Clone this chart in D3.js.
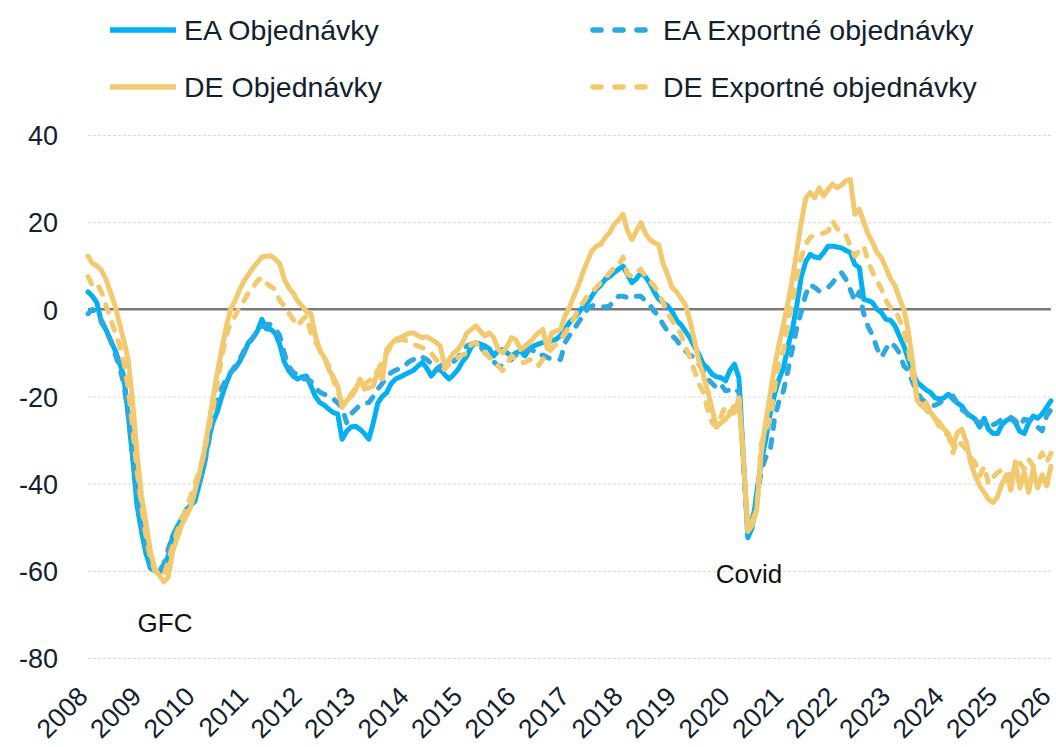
<!DOCTYPE html>
<html>
<head>
<meta charset="utf-8">
<script src="https://cdn.jsdelivr.net/npm/d3@7"></script>
<style>
  body { margin: 0; background: #fff; }
  svg { display: block; font-family: "Liberation Sans", Arial, sans-serif; }
</style>
</head>
<body>
<div id="chart"></div>
<script>
// monthly values, Jan 2008 .. Jan 2026 (one row per year)
const eaOrders = [
  4, 3, 1.5, -3, -4.6, -7, -9.2, -12, -15.3, -24, -34, -45,
  -51, -56, -59.4, -60, -60.4, -59, -56.6, -52, -50, -48, -46, -45,
  -44, -40, -36, -30, -26, -23.5, -20, -17, -14.5, -13.5, -12, -10,
  -7.6, -6.5, -5, -2.3, -4.5, -4.6, -5.5, -8, -12, -14, -15.3, -16,
  -15.5, -15.3, -17.6, -20, -21.4, -22, -22.9, -23.7, -24, -29.8, -28, -27,
  -26.8, -27.5, -28.5, -29.8, -26, -21.5, -20, -19.1, -17, -16, -15.5, -15,
  -14.5, -14, -13, -12.2, -13.5, -15.3, -14, -13.8, -15, -16, -15, -13.8,
  -12, -10.7, -8.5, -7.6, -8, -8.4, -9, -10.7, -9.5, -9.2, -10, -10.7,
  -10, -9.5, -10.7, -9, -8.4, -8, -7.6, -7.6, -7.2, -6.9, -6, -4.6,
  -3, -2, -0.8, 0.5, 1.5, 3, 4.6, 5.5, 6.9, 7.5, 8.4, 9.2,
  9.9, 8, 6.1, 7, 8.4, 7.5, 6, 4, 2.3, 1.5, 0.8, -0.5,
  -2.5, -3.5, -5, -6.5, -8.5, -10.3, -12.6, -13.5, -14.9, -15.5, -15.7, -16.4,
  -14, -12.6, -15.7, -34, -52.4, -50, -42, -35, -30, -24, -19.5, -16,
  -13.4, -8.5, -4.5, 1, 7.5, 11, 12.6, 12, 11.8, 13, 14.5, 14.5,
  14.3, 14.1, 13.5, 13, 10.3, 9.6, 2.3, 2, 1.5, 0, -0.8, -2.3,
  -2.5, -3.8, -6.1, -8.4, -11.5, -14.5, -16.8, -17.6, -18.5, -19.1, -20.3, -20.6,
  -20.3, -19.5, -20.6, -21.5, -22.2, -23.7, -24.5, -25.2, -27, -25, -27.5, -28.5,
  -28.5, -26.5, -25.5, -25, -26, -28, -28.5, -26, -24.5, -25, -24, -22.5,
  -21
]

const eaExport = [
  -1, 0, -1, -2.5, -4.5, -7, -10, -13, -17, -24, -33, -43,
  -50, -55, -58.5, -59.5, -60, -58.5, -55, -52, -50, -48, -46.5, -45,
  -43, -40, -36, -31, -25, -21, -18, -16, -14.5, -13, -11.5, -9.5,
  -8, -6.5, -5, -4, -3.5, -3.5, -4.5, -6, -10, -13, -14.5, -15,
  -16, -16, -16.5, -18, -19, -19.5, -20, -20.5, -21.5, -22.5, -26, -24,
  -23, -22, -21.5, -21.4, -20, -18.3, -17, -15.5, -14.5, -14, -13.5, -13,
  -12, -11.5, -10.7, -11, -11.5, -12.5, -13.8, -13, -12.5, -12.2, -12, -11,
  -9.5, -8.4, -8, -7.6, -8.5, -9.9, -11, -12, -13, -13, -12, -11.5,
  -10.5, -9.9, -9.5, -9.2, -9.5, -10.7, -10.5, -11, -11.5, -11.5, -11.5, -7.6,
  -6, -4.6, -3, -1.5, 0, 0.8, 1, 0.8, 0.5, 0.8, 2, 3,
  3, 2.7, 2.5, 3, 3, 2, 1, -0.5, -1.5, -3.5, -5, -6,
  -7, -8.5, -9.5, -10.5, -11, -12.5, -14.1, -16, -17, -18, -17.2, -18.7,
  -18.5, -18, -19, -35, -50.8, -48, -44, -37, -34, -32.5, -25, -21,
  -18.7, -14, -9, -4.2, -0.5, 3.5, 5.7, 5, 4.2, 4.5, 5, 6.1,
  7.5, 8.4, 6.9, 4.5, 1.9, 4, -1, -4, -6, -9, -11, -9,
  -7.6, -8.5, -10, -13, -14, -16.8, -19.1, -20.6, -21.5, -22.2, -22, -21.5,
  -20.6, -20, -19.9, -21.5, -23, -23.7, -25.2, -25.5, -26, -26, -26.8, -26.5,
  -26, -25.2, -25.2, -24.8, -25.5, -26.8, -25.2, -25.5, -26, -27, -27.9, -24.5,
  -23
]

const deOrders = [
  12.2, 10.5, 10, 9, 7, 4, 1, -3, -7, -11.5, -21, -33,
  -42.8, -49, -55.5, -59.6, -61, -62.5, -61.5, -55.5, -52.5, -49.5, -47.5, -45.5,
  -41.5, -37.5, -33, -26.8, -20.6, -14.5, -9.2, -4, 0, 2, 4.5, 6.5,
  8, 9.5, 10.7, 12, 12.2, 12.3, 11.5, 10.5, 7, 5, 3.8, 2,
  0.8, -0.5, -1, -6, -9.5, -11, -13.8, -15.5, -17.6, -22.5, -21, -20,
  -18.5, -16, -18.3, -18, -17.6, -14, -16, -9.2, -8, -6.9, -6.5, -6,
  -5.5, -5.4, -6, -6.5, -6.3, -6.9, -7.5, -8.4, -13, -11.5, -10, -9.2,
  -7.6, -5.4, -4.6, -3.8, -5, -6.1, -5.4, -6.5, -9.2, -10, -8.5, -6.5,
  -7, -9.2, -8.5, -7.6, -6.5, -5.4, -4.6, -9, -5.4, -5, -4.6, -1.5,
  0.5, 3, 5.5, 8.4, 11, 13.4, 14.5, 14.9, 16.5, 17.6, 19.5, 20.5,
  21.8, 18, 16, 18, 19.9, 17.5, 16, 15.3, 14.8, 10.5, 8, 5,
  4, 2.5, 1, -2.5, -7, -11.8, -15, -18.7, -23, -27, -26, -25.2,
  -24, -23.7, -20.3, -34, -51, -49.5, -46, -33, -26, -19.5, -13, -8,
  -3.5, 1.5, 7, 13.4, 20, 25.5, 26.8, 25.6, 27.9, 26, 27.5, 28.7,
  27.9, 28.5, 29.5, 29.8, 21.8, 23, 20, 17.2, 15.3, 13, 11.8, 9.5,
  7, 5.5, 2.5, 0, -5, -12.5, -21, -22.2, -21.4, -23.7, -25, -26,
  -27.5, -28.5, -31.3, -28.3, -27.5, -30.5, -35.2, -38.2, -40.5, -42, -43.6, -44.3,
  -43, -40, -38, -41.5, -35, -41, -37.5, -42, -36.5, -41, -38, -40.5,
  -36
]

const deExport = [
  7.5, 5.5, 6, 4, 1, -2, -5, -8, -12, -18, -27, -37,
  -45, -52, -57, -60, -61, -61, -58, -54, -51, -48, -46, -43,
  -40, -37, -33, -28, -23, -17, -11, -6, -3, -1.5, 0.5, 2,
  3.8, 5, 6.5, 7.3, 6, 5.2, 4.6, 2, 0.8, -0.8, -2.3, -3.8,
  -2.5, -1.5, -5.4, -7.5, -9.2, -11, -13, -16, -19, -21.4, -21, -19.5,
  -18, -17.6, -17.2, -16.5, -15.5, -14, -12, -10, -8.4, -7.5, -6.9, -7,
  -7.5, -8, -8.4, -8.8, -9.2, -10, -11.5, -12.5, -13.8, -12.5, -11.5, -11,
  -10.5, -10, -8, -7.6, -9, -9.9, -11, -12, -13, -14.1, -12.5, -10.7,
  -11.5, -12.2, -12.2, -11.5, -12, -13, -11.5, -10.3, -9, -8, -6.9, -5.5,
  -3.8, -2, 0, 1.5, 3, 3.8, 5, 6.1, 7, 8.4, 9.5, 10,
  12, 8, 7.6, 8.5, 9.2, 7.6, 6.5, 5.4, 3.8, 1.5, -0.8, -2.5,
  -4.2, -5.7, -8.5, -11, -14, -17, -19, -23, -26, -27, -24.5, -22.2,
  -23.7, -22, -20.3, -35, -49.5, -48.5, -46, -31, -28, -24.8, -18, -12,
  -9.6, -3, 2, 7.3, 12, 15, 16.5, 17, 17.2, 17.5, 18, 20.3,
  18.5, 18, 17, 14.5, 12.2, 13.5, 14.5, 11, 8.4, 6.5, 4.6, 2,
  0.4, 0, -2.3, -5, -9, -15.3, -20.6, -22, -23, -24.5, -25.2, -27,
  -28.3, -29, -32.9, -30, -31, -32.1, -34, -35.2, -38.2, -36, -40, -38.5,
  -37.5, -36.7, -37.5, -38.2, -36.5, -35.2, -36.7, -34.4, -36, -35, -32.9, -35.2,
  -33
]

const years = d3.range(2008, 2027)
const yTicks = [-80, -60, -40, -20, 0, 20, 40]

const series = [
  {name: "EA Objednávky", values: eaOrders, color: "#00b0f0", dash: null},
  {name: "EA Exportné objednávky", values: eaExport, color: "#2ea8de", dash: "8,11"},
  {name: "DE Objednávky", values: deOrders, color: "#f2c96e", dash: null},
  {name: "DE Exportné objednávky", values: deExport, color: "#f2c96e", dash: "8,11"}
]

const W = 1056, H = 747
const plotL = 88, plotR = 1051, plotT = 135, plotB = 658
const ink = "#13212f"

const svg = d3.select("#chart").append("svg")
  .attr("width", W).attr("height", H)

const x = d3.scaleLinear().domain([0, 216]).range([plotL, plotR])
const y = d3.scaleLinear().domain([-80, 40]).range([plotB, plotT])

// gridlines
svg.append("g")
  .attr("transform", `translate(${plotL},0)`)
  .call(d3.axisLeft(y).tickValues(yTicks.filter(d => d != 0)).tickSize(-(plotR - plotL)).tickFormat(""))
  .call(g => g.select(".domain").remove())
  .selectAll("line")
    .attr("stroke", "#d9d9d9")
    .attr("stroke-dasharray", "3,2")

// zero line
svg.append("line")
  .attr("x1", plotL).attr("x2", plotR)
  .attr("y1", y(0)).attr("y2", y(0))
  .attr("stroke", "#7a7a7a")
  .attr("stroke-width", 2.5)

// y labels (plain hyphen, not unicode minus)
svg.append("g")
  .attr("transform", `translate(58,0)`)
  .call(d3.axisLeft(y).tickValues(yTicks).tickSize(0).tickPadding(0).tickFormat(d => String(d)))
  .call(g => g.select(".domain").remove())
  .selectAll("text")
    .attr("fill", ink)
    .style("font-size", "27px")
    .attr("dy", "0.36em")

// x labels, rotated
svg.append("g")
  .call(d3.axisBottom(x).tickValues(years.map(v => (v - 2008) * 12)).tickFormat((d, i) => years[i]).tickSize(0))
  .call(g => g.select(".domain").remove())
  .selectAll("text")
    .attr("fill", ink)
    .style("font-size", "26.5px")
    .attr("x", 0).attr("y", 0).attr("dy", 0)
    .attr("text-anchor", "end")
    .attr("transform", "translate(1,698) rotate(-45)")

// lines
const line = d3.line()
  .x((d, i) => x(i))
  .y(d => y(d))

svg.append("g").selectAll("path")
  .data(series)
  .join("path")
    .attr("d", d => line(d.values))
    .attr("fill", "none")
    .attr("stroke", d => d.color)
    .attr("stroke-width", 5)
    .attr("stroke-linejoin", "round")
    .attr("stroke-linecap", "round")
    .attr("stroke-dasharray", d => d.dash)

// annotations
svg.append("text").attr("x", 165).attr("y", 632)
  .attr("text-anchor", "middle").style("font-size", "26px").attr("fill", "#111")
  .text("GFC")
svg.append("text").attr("x", 749).attr("y", 583)
  .attr("text-anchor", "middle").style("font-size", "26px").attr("fill", "#111")
  .text("Covid")

// legend
const legPos = [[110, 30], [590, 30], [110, 87], [590, 87]]
const leg = svg.append("g").selectAll("g")
  .data(series)
  .join("g")
    .attr("transform", (d, i) => `translate(${legPos[i][0]},${legPos[i][1]})`)

leg.append("line")
  .attr("x1", d => d.dash ? 3 : 0).attr("x2", 66)
  .attr("stroke", d => d.color)
  .attr("stroke-width", 5.5)
  .attr("stroke-linecap", d => d.dash ? "round" : "butt")
  .attr("stroke-dasharray", d => d.dash ? "8,14" : null)

leg.append("text")
  .attr("x", d => d.dash ? 73 : 74)
  .attr("dy", "0.35em")
  .attr("fill", ink)
  .style("font-size", "28.5px")
  .text(d => d.name)
</script>
</body>
</html>
